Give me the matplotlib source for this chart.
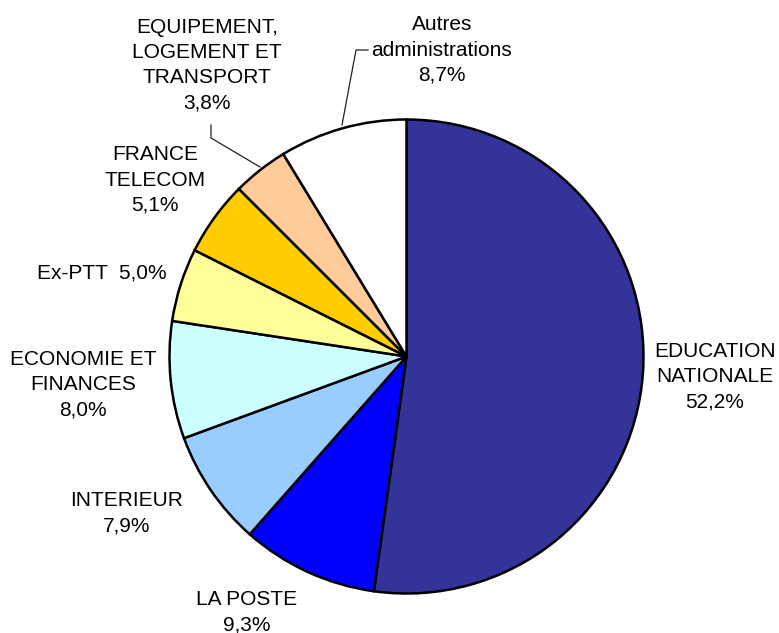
import matplotlib
matplotlib.use("Agg")
import matplotlib.pyplot as plt

# data
labels = ["EDUCATION\nNATIONALE", "LA POSTE", "INTERIEUR", "ECONOMIE ET\nFINANCES",
          "Ex-PTT", "FRANCE\nTELECOM", "EQUIPEMENT,\nLOGEMENT ET\nTRANSPORT",
          "Autres\nadministrations"]
shares = [52.2, 9.3, 7.9, 8.0, 5.0, 5.1, 3.8, 8.7]
colors = ["#333399", "#0000FF", "#99CCFF", "#CCFFFF", "#FFFF99", "#FFCC00",
          "#FFCC99", "#FFFFFF"]

W, H = 779, 633
fig = plt.figure(figsize=(W / 100, H / 100), dpi=100)
ax = fig.add_axes([0, 0, 1, 1])

cx, cy, r = 406.5, H - 356.5, 237
ax.pie(shares, colors=colors, startangle=90, counterclock=False,
       center=(cx, cy), radius=r, frame=True,
       wedgeprops=dict(edgecolor="black", linewidth=1.8))
ax.set_xlim(0, W)
ax.set_ylim(0, H)
ax.set_aspect("equal")
ax.axis("off")

def pct(v):
    return ("%.1f%%" % v).replace(".", ",")

# label centres in pixel coords (x, y from top)
pos = [(715, 377), (247, 612), (127, 513), (83, 385), (102, 273),
       (155, 180), (207, 65), (442, 50)]
for lab, v, (x, y) in zip(labels, shares, pos):
    if lab == "Ex-PTT":
        txt = lab + "  " + pct(v)
    else:
        txt = lab + "\n" + pct(v)
    ax.text(x, H - y, txt, ha="center", va="center", fontsize=15,
            family="Liberation Sans", linespacing=1.42, color="black")

# leader lines
ax.plot([211, 211, 260], [H - 125, H - 138, H - 167], color="#222222", lw=0.9)
ax.plot([368, 356, 342], [H - 50, H - 50, H - 125], color="#222222", lw=0.9)

fig.savefig("out.png", dpi=100)
